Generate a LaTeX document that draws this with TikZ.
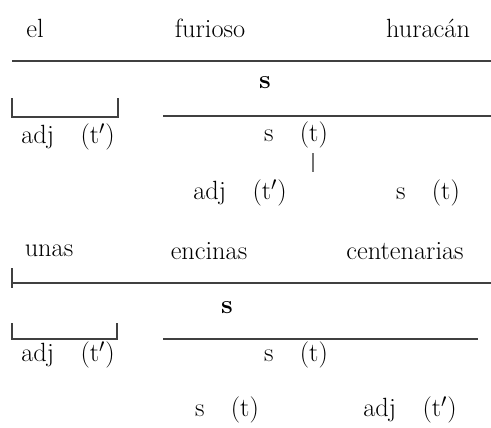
\documentclass[tikz,border=0pt]{standalone}
\usetikzlibrary{positioning}
\newcommand\adjtp{adj\quad(t$'$)}
\newcommand\sust{s\quad(t)}

\begin{document}
\begin{tikzpicture}[x=0.02cm,y=-0.02cm,
  word/.style={font=\fontsize{15}{18}\selectfont,inner sep=0pt},
  rule/.style={line width=0.8pt,black!75}]
  \useasboundingbox (0,0) rectangle (491,427);
  % el furioso huracán
  \node[word] (el) at (35,28) {el};
  \node[word] (furioso) at (210,28) {furioso};
  \node[word] (huracan) at (428,28) {huracán};
  \coordinate (r1a) at (12,61);
  \coordinate (r1b) at (491,61);
  \draw[rule] (r1a) -- (r1b);
  \node[word] (s1) at (265,83) {\textbf{s}};
  % corchete del adjetivo
  \coordinate (b1a) at (12,98);
  \coordinate (b1b) at (118,98);
  \draw[rule] (b1a) -- (12,117) -- (118,117) -- (b1b);
  \coordinate (l1a) at (163,116);
  \coordinate (l1b) at (491,116);
  \draw[rule] (l1a) -- (l1b);
  \node[word] (adj1) at (68,137) {\adjtp};
  \node[word] (sust1) at (296,135) {\sust};
  \coordinate (t1a) at (313,153);
  \coordinate (t1b) at (313,172);
  \draw[rule,black!55] (t1a) -- (t1b);
  \node[word] (adj2) at (240,193) {\adjtp};
  \node[word] (sust2) at (428,193) {\sust};
  % unas encinas centenarias
  \node[word] (unas) at (49,251) {unas};
  \node[word] (encinas) at (209,251) {encinas};
  \node[word] (centenarias) at (405,251) {centenarias};
  \coordinate (r2a) at (12,283);
  \coordinate (r2b) at (491,283);
  \draw[rule] (12,268) -- (12,288);
  \draw[rule] (r2a) -- (r2b);
  \node[word] (s2) at (227,308) {\textbf{s}};
  \coordinate (b2a) at (12,323);
  \coordinate (b2b) at (117,323);
  \draw[rule] (b2a) -- (12,339) -- (117,339) -- (b2b);
  \coordinate (l2a) at (163,339);
  \coordinate (l2b) at (478,339);
  \draw[rule] (l2a) -- (l2b);
  \node[word] (adj3) at (68,355) {\adjtp};
  \node[word] (sust3) at (296,355) {\sust};
  \node[word] (sust4) at (227,410) {\sust};
  \node[word] (adj4) at (410,410) {\adjtp};
\end{tikzpicture}
\end{document}
